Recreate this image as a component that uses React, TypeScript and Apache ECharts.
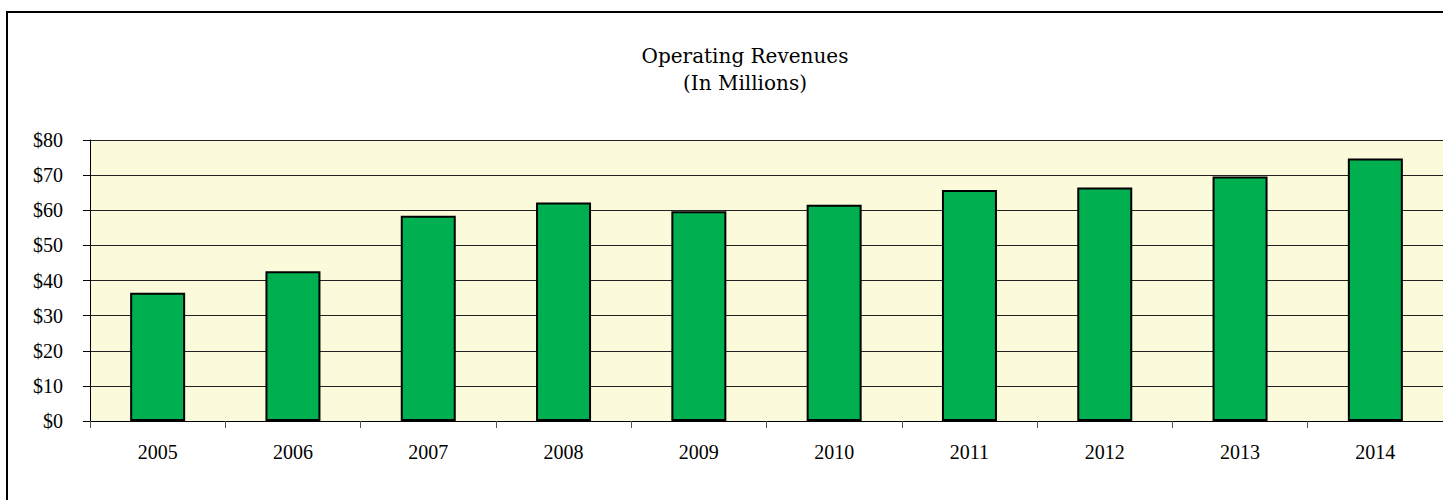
import React, { useEffect, useRef } from "react";
import * as echarts from "echarts";

const years = ["2005", "2006", "2007", "2008", "2009", "2010", "2011", "2012", "2013", "2014"];
const revenues = [36.5, 42.6, 58.4, 62.2, 59.7, 61.6, 65.8, 66.5, 69.6, 74.7];
const titleLines = ["Operating Revenues", "(In Millions)"];
const LABEL_FONT = "'Liberation Serif', serif";
const TITLE_FONT = "'DejaVu Serif', serif";

export default function App() {
  const ref = useRef<HTMLDivElement>(null);
  useEffect(() => {
    if (!ref.current) return;
    const chart = echarts.init(ref.current, undefined, { renderer: "svg" });
    chart.setOption({
      animation: false,
      backgroundColor: "#ffffff",
      title: {
        text: titleLines.join("\n"),
        left: 740,
        top: 37,
        textAlign: "center",
        textStyle: { fontFamily: TITLE_FONT, fontSize: 20, fontWeight: "normal", color: "#000", lineHeight: 27 },
      },
      graphic: [
        {
          type: "rect",
          silent: true,
          z: 100,
          shape: { x: 7, y: 12, width: 1600, height: 700 },
          style: { fill: "none", stroke: "#000", lineWidth: 2 },
        },
      ],
      grid: {
        left: 90,
        top: 140,
        width: 1360,
        height: 281,
        show: true,
        backgroundColor: "#FBFBDC",
        borderWidth: 0,
      },
      xAxis: {
        type: "category",
        data: years,
        axisLine: { show: true, lineStyle: { color: "#000", width: 1 } },
        axisTick: { show: true, alignWithLabel: false, length: 7, lineStyle: { color: "#555" } },
        axisLabel: { fontFamily: LABEL_FONT, fontSize: 20, color: "#000", margin: 21 },
        splitLine: { show: false },
      },
      yAxis: {
        type: "value",
        min: 0,
        max: 80,
        interval: 10,
        axisLine: { show: true, lineStyle: { color: "#000", width: 1 } },
        axisTick: { show: true, length: 7, lineStyle: { color: "#000" } },
        axisLabel: { fontFamily: LABEL_FONT, fontSize: 20, color: "#000", margin: 27, formatter: (v: number) => "$" + v },
        splitLine: { show: true, lineStyle: { color: "#222", width: 1 } },
      },
      series: [
        {
          type: "bar",
          data: revenues,
          barWidth: 55,
          itemStyle: { color: "#00B050", borderColor: "#000", borderWidth: 2 },
        },
      ],
    });
    return () => chart.dispose();
  }, []);
  return (
    <div
      ref={ref}
      style={{ position: "fixed", left: 0, top: 0, width: 1443, height: 500 }}
    />
  );
}
